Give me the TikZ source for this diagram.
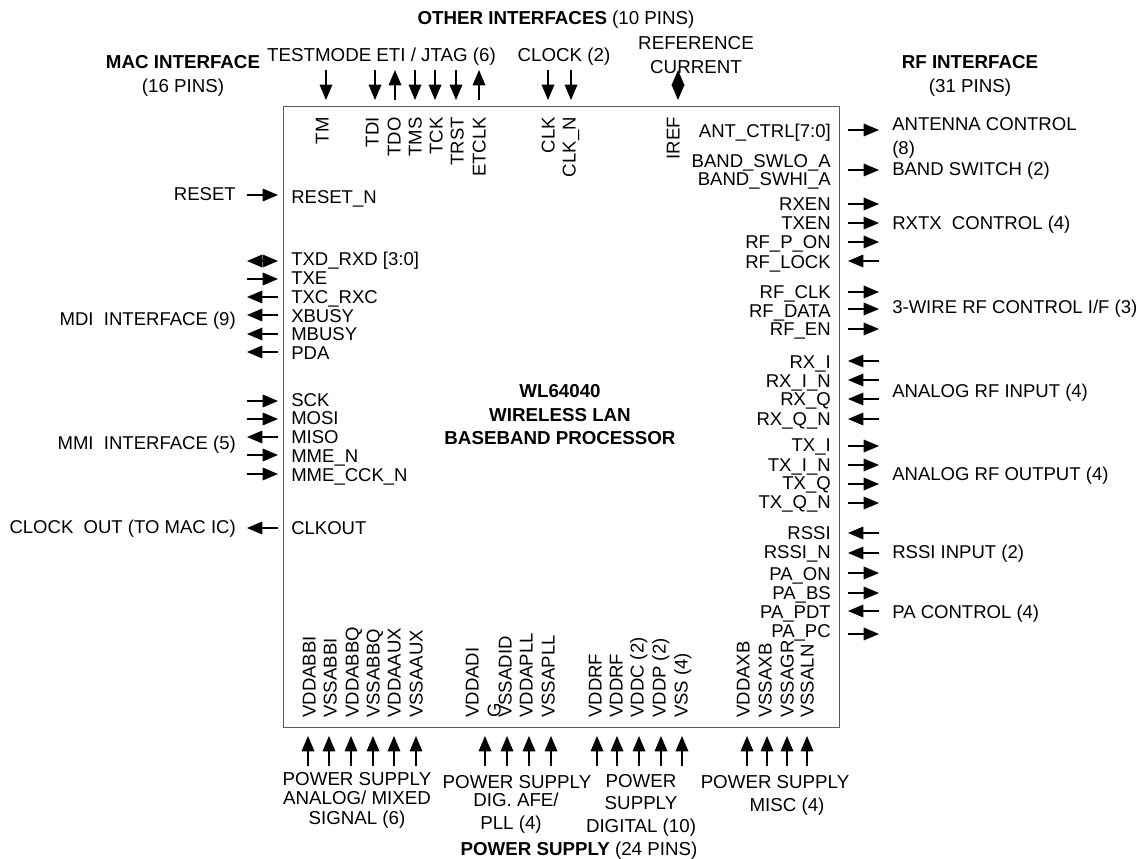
\documentclass[tikz,border=0pt]{standalone}
\usepackage{fontspec}
\setmainfont{Liberation Sans}
\usetikzlibrary{arrows.meta}
\definecolor{boxgray}{HTML}{5A5A5A}
\tikzset{
	chipbox/.style={draw=boxgray, line width=1.1pt},
	ptext/.style={font=\fontsize{13.9}{16}\selectfont, inner sep=0pt, text height=10pt, text depth=0pt},
	ptextl/.style={ptext, anchor=west},
	ptextr/.style={ptext, anchor=east},
	pvup/.style={ptext, rotate=90, anchor=west},
	pvdn/.style={ptext, rotate=90, anchor=east},
	gtext/.style={ptext, font=\fontsize{14.05}{16}\selectfont, anchor=center},
	rarr/.style={-{Triangle[length=11.5pt, width=9.5pt]}, line width=0.9pt},
	larr/.style={{Triangle[length=11.5pt, width=9.5pt]}-, line width=0.9pt},
	barr/.style={{Triangle[length=11.5pt, width=9.5pt]}-{Triangle[length=11.5pt, width=9.5pt]}, line width=0.9pt}
}

\begin{document}
\begin{tikzpicture}[x=0.75pt, y=-0.75pt]
	\useasboundingbox (0,0) rectangle (1139,859);
	\node[chipbox, minimum width=417pt, minimum height=465.75pt, inner sep=0pt, anchor=north west] (chip) at (283,106) {};
	\node[gtext, font=\fontsize{14.05}{16}\selectfont\bfseries] (ctitle1) at (560,391) {WL64040};
	\node[gtext, font=\fontsize{14.05}{16}\selectfont\bfseries] (ctitle2) at (560,415) {WIRELESS LAN};
	\node[gtext, font=\fontsize{14.05}{16}\selectfont\bfseries] (ctitle3) at (560,438) {BASEBAND PROCESSOR};

	\foreach \pname/\ty/\ay/\dir [count=\i] in {
		RESET\_N/197/195/rarr, {TXD\_RXD [3:0]}/259/261/barr, TXE/278/279/rarr, TXC\_RXC/297/297/larr,
		XBUSY/316/315/larr, MBUSY/334/334/larr, PDA/353/352/larr, SCK/400/401/rarr, MOSI/418/419/rarr,
		MISO/437/437/larr, MME\_N/456/455/rarr, MME\_CCK\_N/475/474/rarr, CLKOUT/528/528/larr} {
		\node[ptextl] (lpin\i) at (291,\ty) {\pname};
		\coordinate (lfar\i) at (247,\ay);
		\coordinate (lnear\i) at (278,\ay);
		\draw[\dir] (lfar\i) -- (lnear\i);
	}
	\foreach \pname/\ty/\ay/\dir [count=\i] in {
		ANT\_CTRL[7:0]/131/130/rarr, BAND\_SWLO\_A/161/170/rarr, RXEN/204/204/rarr, TXEN/223/223/rarr,
		RF\_P\_ON/242/242/rarr, RF\_LOCK/262/261/larr, RF\_CLK/292/292/rarr, RF\_DATA/311/309/rarr,
		RF\_EN/329/329/rarr, RX\_I/362/361/larr, RX\_I\_N/381/380/larr, RX\_Q/399/399/larr, RX\_Q\_N/419/419/larr,
		TX\_I/445/446/rarr, TX\_I\_N/465/465/rarr, TX\_Q/483/484/rarr, TX\_Q\_N/502/503/rarr, RSSI/533/533/larr,
		RSSI\_N/552/553/larr, PA\_ON/574/573/rarr, PA\_BS/593/593/rarr, PA\_PDT/612/611/larr, PA\_PC/631/634/rarr} {
		\node[ptextr] (rpin\i) at (831,\ty) {\pname};
		\coordinate (rnear\i) at (848,\ay);
		\coordinate (rfar\i) at (879,\ay);
		\draw[\dir] (rnear\i) -- (rfar\i);
	}
	\node[ptextr] (rpinhi) at (831,179) {BAND\_SWHI\_A};

	\foreach \pname/\tx/\ax/\dir [count=\i] in {
		TM/322/326/rarr, TDI/372/375/rarr, TDO/394/395/larr, TMS/415/415/rarr, TCK/436/435/rarr,
		TRST/457/456/rarr, ETCLK/479/479/larr, CLK/548/548/rarr, CLK\_N/569/571/rarr, IREF/673/678/barr} {
		\node[pvdn] (tpin\i) at (\tx,117) {\pname};
		\coordinate (tfar\i) at (\ax,70);
		\coordinate (tnear\i) at (\ax,100);
		\draw[\dir] (tfar\i) -- (tnear\i);
	}
	\foreach \pname/\tx/\ax [count=\i] in {
		VDDABBI/309/308, VSSABBI/330/329, VDDABBQ/352/351, VSSABBQ/373/373, VDDAAUX/394/394, VSSAAUX/416/416,
		VDDADI/472/485, VSSADID/505/507, VDDAPLL/526/529, VSSAPLL/548/551,
		VDDRF/595/597, VDDRF/616/617, {VDDC (2)}/637/639, {VDDP (2)}/659/661, {VSS (4)}/681/682,
		VDDAXB/743/747, VSSAXB/765/767, VSSAGR/787/787, VSSALN/807/807} {
		\node[pvup] (bpin\i) at (\tx,718) {\pname};
		\coordinate (bfar\i) at (\ax,766);
		\coordinate (bnear\i) at (\ax,736);
		\draw[larr] (bnear\i) -- (bfar\i);
	}
	\node[pvup] (bpinwrap) at (494,718) {G};

	\foreach \gname/\ty [count=\i] in {RESET/194, {MDI\ \ INTERFACE (9)}/319, {MMI\ \ INTERFACE (5)}/443, {CLOCK\ \ OUT (TO MAC IC)}/527}
		\node[ptextr] (lgrp\i) at (236,\ty) {\gname};
	\foreach \gname/\ty [count=\i] in {
		ANTENNA CONTROL/124, {(8)}/148, {BAND SWITCH (2)}/169, {RXTX\ \ CONTROL (4)}/223, {3-WIRE RF CONTROL I/F (3)}/307,
		{ANALOG RF INPUT (4)}/391, {ANALOG RF OUTPUT (4)}/474, {RSSI INPUT (2)}/552, {PA CONTROL (4)}/612}
		\node[ptextl] (rgrp\i) at (892,\ty) {\gname};

	\node[gtext] (othertitle) at (556,18) {\textbf{OTHER INTERFACES} (10 PINS)};
	\node[gtext] (topgrp1) at (381.5,55) {TESTMODE ETI / JTAG (6)};
	\node[gtext] (topgrp2) at (564,55) {CLOCK (2)};
	\node[gtext] (refer1) at (696,43) {REFERENCE};
	\node[gtext] (refer2) at (696,67) {CURRENT};
	\node[gtext] (mactitle) at (183,62) {\textbf{MAC INTERFACE}};
	\node[gtext] (macpins) at (183,86) {(16 PINS)};
	\node[gtext] (rftitle) at (970,62) {\textbf{RF INTERFACE}};
	\node[gtext] (rfpins) at (970,86) {(31 PINS)};

	\foreach \gname/\tx/\ty [count=\i] in {
		POWER SUPPLY/357/779, {ANALOG/ MIXED}/357/798, {SIGNAL (6)}/357/818,
		POWER SUPPLY/517/782, {DIG. AFE/}/516/800, {PLL (4)}/511/823,
		POWER/641/781, SUPPLY/641/803, {DIGITAL (10)}/641/826,
		POWER SUPPLY/775/782, {MISC (4)}/787/805}
		\node[gtext] (pgrp\i) at (\tx,\ty) {\gname};
	\node[gtext] (powertitle) at (579,849) {\textbf{POWER SUPPLY} (24 PINS)};
\end{tikzpicture}
\end{document}
